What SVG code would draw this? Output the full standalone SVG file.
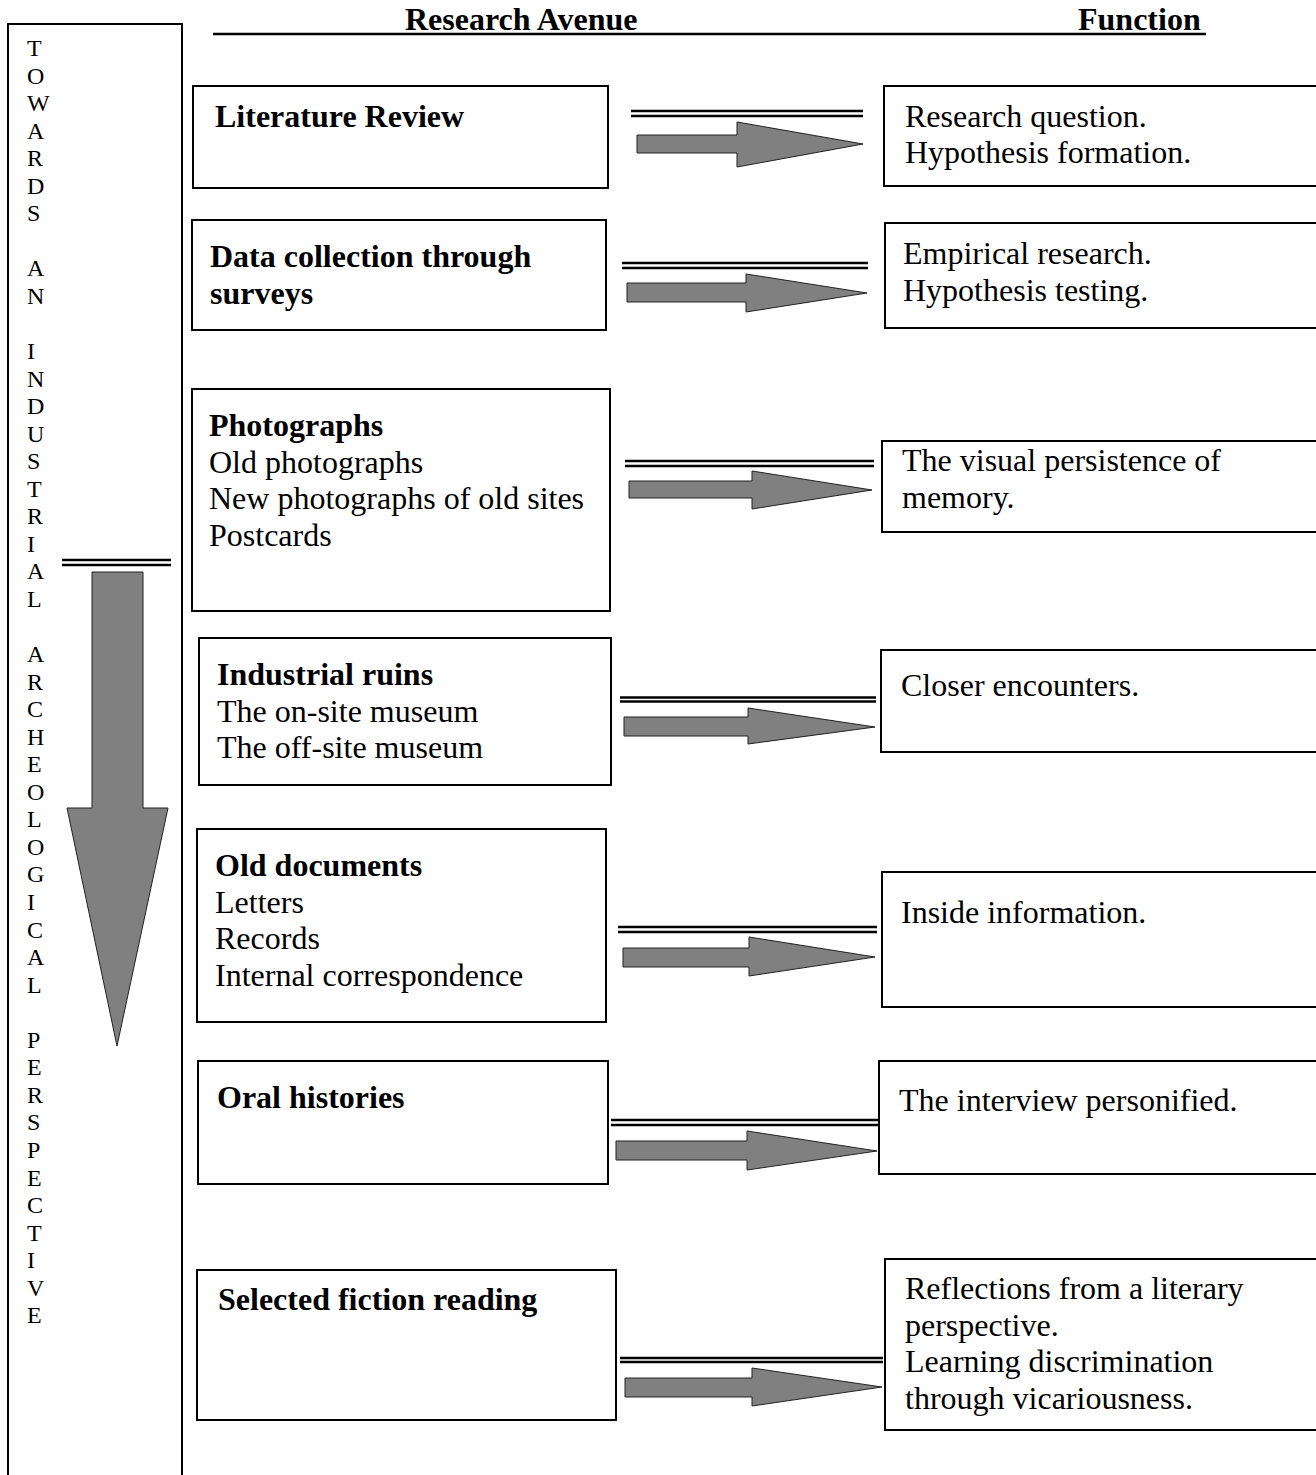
<svg xmlns="http://www.w3.org/2000/svg" width="1316" height="1475" viewBox="0 0 1316 1475">
<style>
text{font-family:"Liberation Serif","Times New Roman",serif;fill:#000}
.t{font-size:32px}
.b{font-size:32px;font-weight:bold}
.v{font-size:24px}
.box{fill:#fff;stroke:#000;stroke-width:2}
.dl{stroke:#000;stroke-width:2.5;fill:none}
.arr{fill:#808080;stroke:#222;stroke-width:1}
</style>
<rect width="1316" height="1475" fill="#fff"/>
<g id="header">
<text class="b" x="405" y="30">Research Avenue</text>
<text class="b" x="1078" y="30">Function</text>
<line x1="213" y1="34" x2="1206" y2="34" stroke="#000" stroke-width="2.5"/>
</g>
<g id="perspective">
<rect class="box" x="8" y="24" width="174" height="1480"/>
<text class="v" x="27" y="56">
<tspan x="27" dy="0">T</tspan><tspan x="27" dy="27.55">O</tspan><tspan x="27" dy="27.55">W</tspan><tspan x="27" dy="27.55">A</tspan><tspan x="27" dy="27.55">R</tspan><tspan x="27" dy="27.55">D</tspan><tspan x="27" dy="27.55">S</tspan>
<tspan x="27" dy="55.1">A</tspan><tspan x="27" dy="27.55">N</tspan>
<tspan x="27" dy="55.1">I</tspan><tspan x="27" dy="27.55">N</tspan><tspan x="27" dy="27.55">D</tspan><tspan x="27" dy="27.55">U</tspan><tspan x="27" dy="27.55">S</tspan><tspan x="27" dy="27.55">T</tspan><tspan x="27" dy="27.55">R</tspan><tspan x="27" dy="27.55">I</tspan><tspan x="27" dy="27.55">A</tspan><tspan x="27" dy="27.55">L</tspan>
<tspan x="27" dy="55.1">A</tspan><tspan x="27" dy="27.55">R</tspan><tspan x="27" dy="27.55">C</tspan><tspan x="27" dy="27.55">H</tspan><tspan x="27" dy="27.55">E</tspan><tspan x="27" dy="27.55">O</tspan><tspan x="27" dy="27.55">L</tspan><tspan x="27" dy="27.55">O</tspan><tspan x="27" dy="27.55">G</tspan><tspan x="27" dy="27.55">I</tspan><tspan x="27" dy="27.55">C</tspan><tspan x="27" dy="27.55">A</tspan><tspan x="27" dy="27.55">L</tspan>
<tspan x="27" dy="55.1">P</tspan><tspan x="27" dy="27.55">E</tspan><tspan x="27" dy="27.55">R</tspan><tspan x="27" dy="27.55">S</tspan><tspan x="27" dy="27.55">P</tspan><tspan x="27" dy="27.55">E</tspan><tspan x="27" dy="27.55">C</tspan><tspan x="27" dy="27.55">T</tspan><tspan x="27" dy="27.55">I</tspan><tspan x="27" dy="27.55">V</tspan><tspan x="27" dy="27.55">E</tspan>
</text>
</g>
<g id="avenue1"><rect class="box" x="193" y="86" width="415" height="102"/><text class="b" x="215" y="127">Literature Review</text></g>
<g id="avenue2"><rect class="box" x="192" y="220" width="414" height="110"/><text class="b" x="210" y="267">Data collection through</text><text class="b" x="210" y="304">surveys</text></g>
<g id="avenue3"><rect class="box" x="192" y="389" width="418" height="222"/><text class="b" x="209" y="436">Photographs</text><text class="t" x="209" y="473">Old photographs</text><text class="t" x="209" y="509">New photographs of old sites</text><text class="t" x="209" y="546">Postcards</text></g>
<g id="avenue4"><rect class="box" x="199" y="638" width="412" height="147"/><text class="b" x="217" y="685">Industrial ruins</text><text class="t" x="217" y="722">The on-site museum</text><text class="t" x="217" y="758">The off-site museum</text></g>
<g id="avenue5"><rect class="box" x="197" y="829" width="409" height="193"/><text class="b" x="215" y="876">Old documents</text><text class="t" x="215" y="913">Letters</text><text class="t" x="215" y="949">Records</text><text class="t" x="215" y="986">Internal correspondence</text></g>
<g id="avenue6"><rect class="box" x="198" y="1061" width="410" height="123"/><text class="b" x="217" y="1108">Oral histories</text></g>
<g id="avenue7"><rect class="box" x="197" y="1270" width="419" height="150"/><text class="b" x="218" y="1310">Selected fiction reading</text></g>
<g id="function1"><rect class="box" x="884" y="86" width="450" height="100"/><text class="t" x="905" y="127">Research question.</text><text class="t" x="905" y="163">Hypothesis formation.</text></g>
<g id="function2"><rect class="box" x="885" y="223" width="450" height="105"/><text class="t" x="903" y="264">Empirical research.</text><text class="t" x="903" y="301">Hypothesis testing.</text></g>
<g id="function3"><rect class="box" x="882" y="441" width="450" height="91"/><text class="t" x="902" y="471">The visual persistence of</text><text class="t" x="902" y="508">memory.</text></g>
<g id="function4"><rect class="box" x="881" y="650" width="450" height="102"/><text class="t" x="901" y="696">Closer encounters.</text></g>
<g id="function5"><rect class="box" x="882" y="872" width="450" height="135"/><text class="t" x="901" y="923">Inside information.</text></g>
<g id="function6"><rect class="box" x="879" y="1061" width="450" height="113"/><text class="t" x="899" y="1111">The interview personified.</text></g>
<g id="function7"><rect class="box" x="885" y="1259" width="450" height="171"/><text class="t" x="905" y="1299">Reflections from a literary</text><text class="t" x="905" y="1336">perspective.</text><text class="t" x="905" y="1372">Learning discrimination</text><text class="t" x="905" y="1409">through vicariousness.</text></g>
<g id="connectors">
<path class="dl" d="M631,111H863M631,116H863"/>
<path class="arr" d="M637,135H737V122L863,144L737,167V153H637Z"/>
<path class="dl" d="M622,263H868M622,268H868"/>
<path class="arr" d="M627,283H746V274L867,293L746,312V302H627Z"/>
<path class="dl" d="M625,461H874M625,466H874"/>
<path class="arr" d="M629,481H752V471L872,490L752,509V498H629Z"/>
<path class="dl" d="M620,697.5H876M620,701.5H876"/>
<path class="arr" d="M624,717H748V708L875,727L748,744V736H624Z"/>
<path class="dl" d="M618,927H877M618,932H877"/>
<path class="arr" d="M623,948H749V937L875,957L749,976V967H623Z"/>
<path class="dl" d="M611,1120H879M611,1125H879"/>
<path class="arr" d="M616,1141H747V1131L877,1151L747,1170V1160H616Z"/>
<path class="dl" d="M620,1358H883M620,1362H883"/>
<path class="arr" d="M625,1378H752V1368L882,1387L752,1406V1397H625Z"/>
<path class="dl" d="M62,560H171M62,565H171"/>
<path class="arr" d="M92,572V808H67L117,1046L168,808H143V572Z"/>
</g>
</svg>
